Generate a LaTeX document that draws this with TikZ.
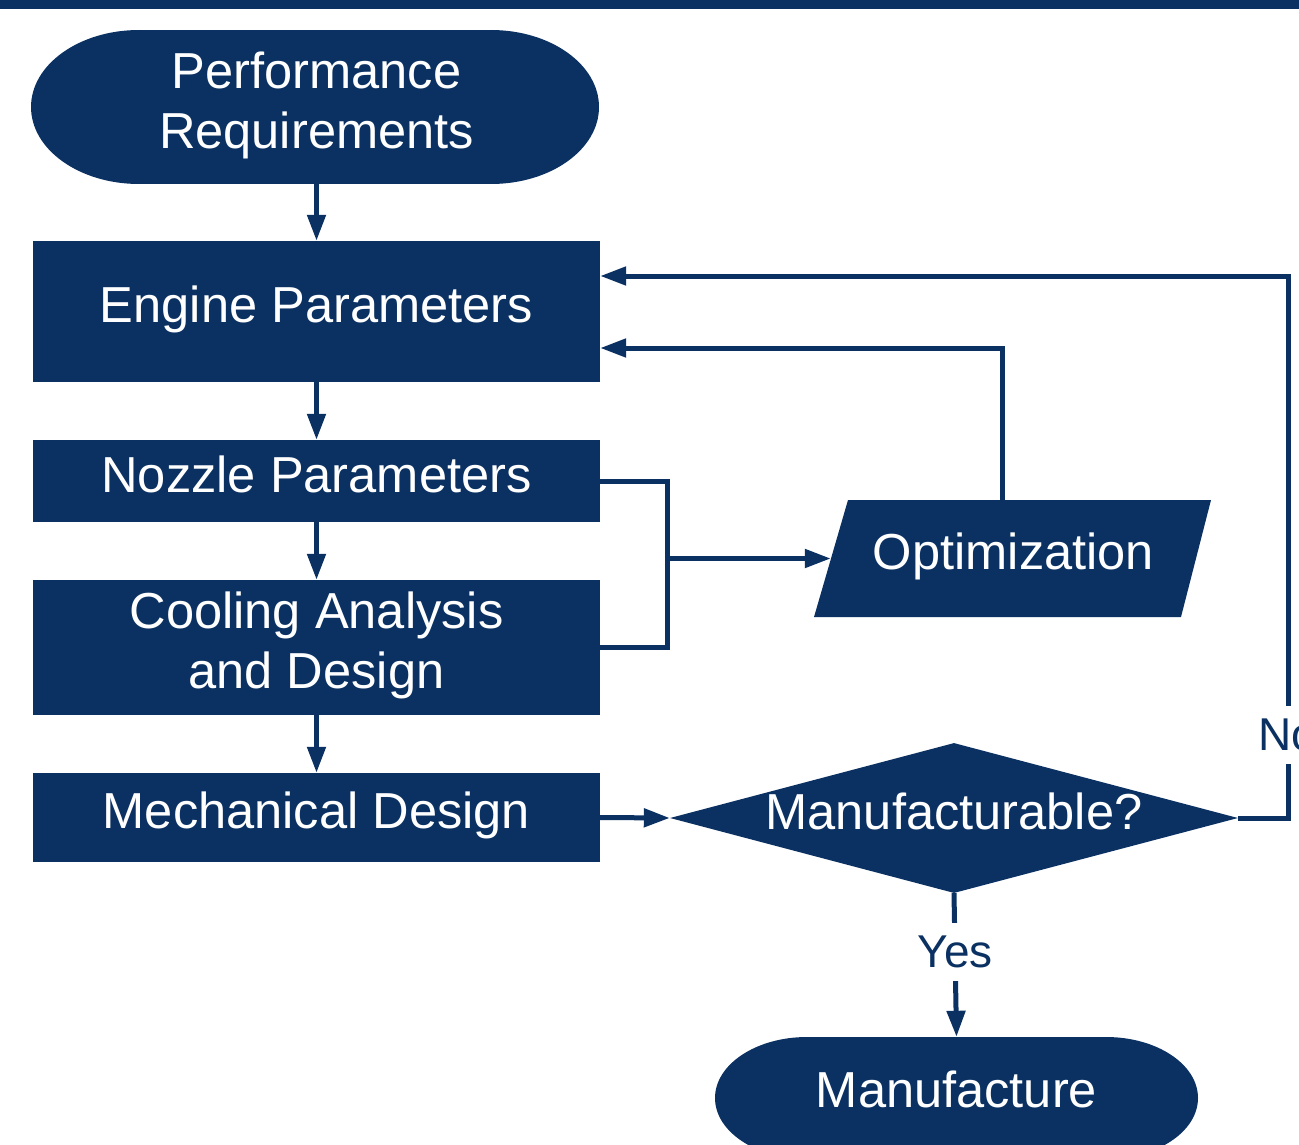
\documentclass[tikz,border=0pt]{standalone}
\usepackage{fontspec}
\setmainfont{Liberation Sans}
\usetikzlibrary{arrows.meta,shapes.geometric,calc}
\definecolor{navy}{HTML}{0B3162}
% fixed line box so captions centre the same with or without descenders
\newcommand\linestrut{\rule[-0.22em]{0pt}{0.93em}}

\begin{document}
\begin{tikzpicture}[x=1pt,y=-1pt,
  txt/.style={text=white, inner sep=0pt, align=center,
    font=\fontsize{50.6}{60}\selectfont,
    execute at begin node=\linestrut, execute at end node=\linestrut},
  % caption sits slightly above the geometric centre of its shape
  caption/.style={label={[txt, yshift=1.5pt]center:#1}},
  box/.style={inner sep=0pt, fill=navy, minimum width=567pt},
  term/.style={inner sep=0pt},
  decision/.style={shape=diamond, fill=navy, inner sep=0pt,
    minimum width=568pt, minimum height=150pt},
  link/.style={draw=navy, line width=5pt},
  flow/.style={link, -{Triangle[length=26pt,width=18pt]}},
  lbl/.style={text=navy, fill=white, inner xsep=4pt, inner ysep=13pt,
    font=\fontsize{46}{55}\selectfont}]

% page frame
\useasboundingbox (0,0) rectangle (1299,1145);
\clip (0,0) rectangle (1299,1145);

% header bar
\fill[navy] (0,0) rectangle (1299,9.5);

% start terminator
\fill[navy] (139,107) ellipse [x radius=108pt, y radius=77pt];
\fill[navy] (491,107) ellipse [x radius=108pt, y radius=77pt];
\fill[navy] (139,30) rectangle (491,184);
\node[term, minimum width=568pt, minimum height=154pt,
  caption={Performance\\Requirements}] (pr) at (316.5,107) {};

% process boxes
\node[box, minimum height=141pt, caption={Engine Parameters}]  (ep)  at (316.5,311.5) {};
\node[box, minimum height=82pt,  caption={Nozzle Parameters}]  (np)  at (316.5,481)   {};
\node[box, minimum height=135pt, caption={Cooling Analysis\\and Design}] (cad) at (316.5,647.5) {};
\node[box, minimum height=89pt,  caption={Mechanical Design}]  (md)  at (316.5,817.5) {};

% optimization (parallelogram)
\fill[navy] (848,500) -- (1211,500) -- (1181,617) -- (814,617) -- cycle;
\node[term, minimum width=365pt, minimum height=117pt,
  caption={Optimization}] (opt) at (1013.5,558.5) {};

% decision
\node[decision, caption={Manufacturable?}] (mf) at (954,818) {};

% end terminator
\fill[navy] (807,1098) ellipse [x radius=92pt, y radius=61pt];
\fill[navy] (1106,1098) ellipse [x radius=92pt, y radius=61pt];
\fill[navy] (807,1037) rectangle (1106,1159);
\node[term, minimum width=483pt, minimum height=122pt,
  label={[txt, yshift=3pt]center:Manufacture}] (man) at (956.5,1098) {};

% main chain
\draw[flow] (pr.south) -- (pr.south |- ep.north);
\draw[flow] (ep.south) -- (np.north);
\draw[flow] (np.south) -- (cad.north);
\draw[flow] (cad.south) -- (md.north);
\draw[flow] (md.east) -- (mf.west);

% nozzle / cooling results into optimization
\coordinate (jt) at (667.5,481);
\coordinate (jb) at (667.5,647.5);
\draw[link] (np.east) -- (jt) -- (jb) -- (cad.east);
\draw[flow] (jt |- opt.west) -- (opt.west);

% optimization feedback
\draw[flow] ([xshift=-11.5pt]opt.north) |- ([yshift=-36.5pt]ep.east);

% not manufacturable: back to engine parameters
\coordinate (noturn) at (1288,276);
\draw[flow] (mf.east) -| (noturn) -- ([yshift=35.5pt]ep.east);
\node[lbl] at (1288,735) {No};

% manufacturable
\draw[flow] (mf.south) -- node[lbl, pos=0.41] {Yes} (man.north);
\end{tikzpicture}
\end{document}
